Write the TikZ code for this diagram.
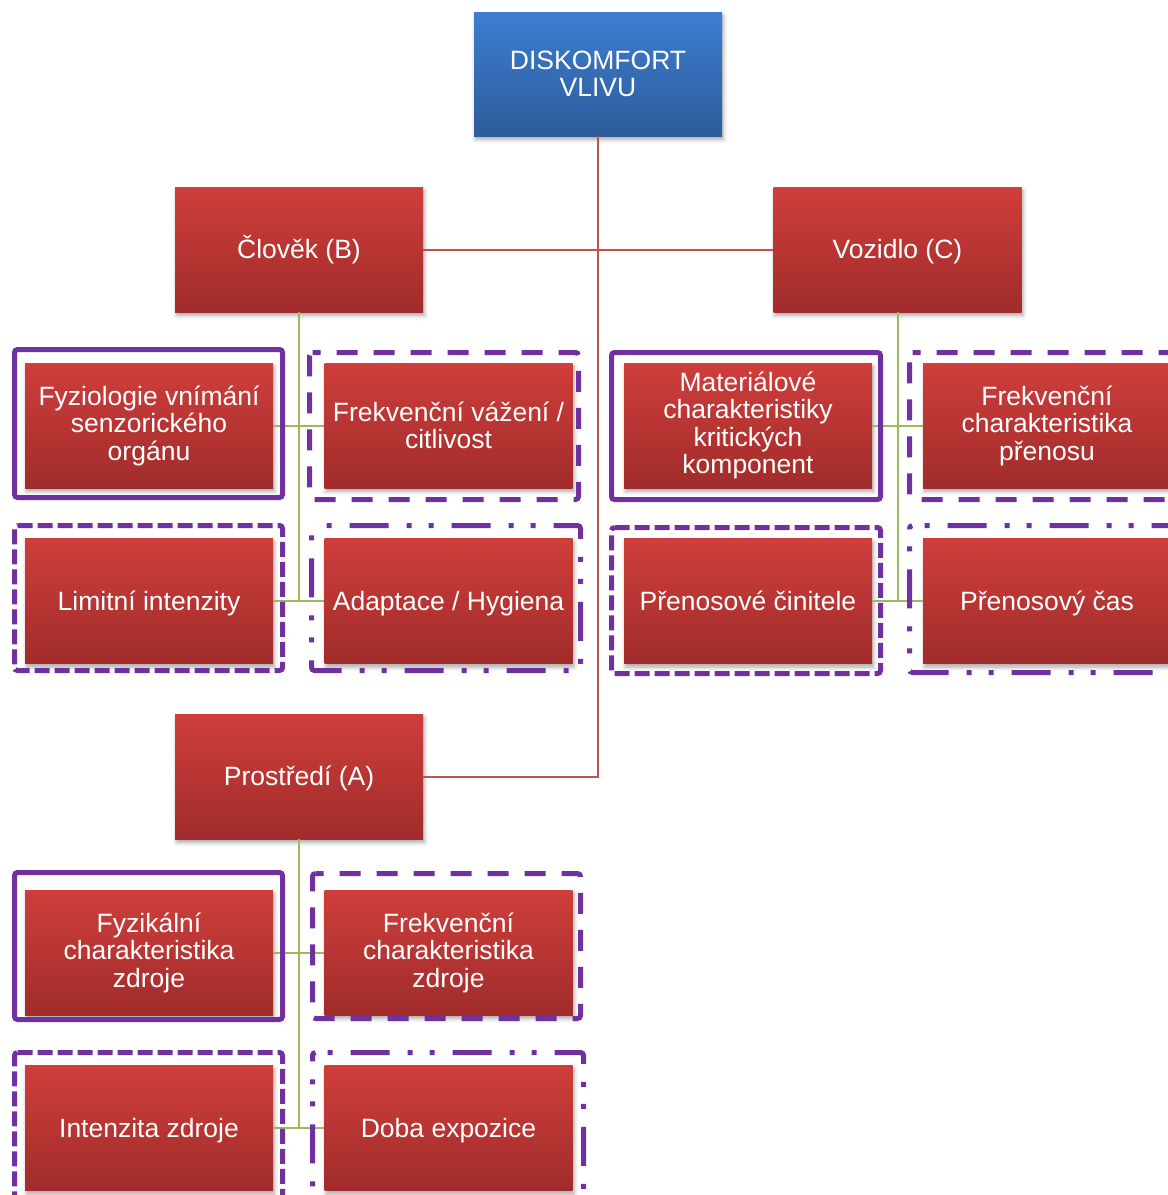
\documentclass[tikz,border=0pt]{standalone}
\usepackage{fontspec}
\setmainfont{Liberation Sans}
\usetikzlibrary{shadows.blur}

\definecolor{blueTop}{HTML}{3C7ED0}
\definecolor{blueBot}{HTML}{2D5C9B}
\definecolor{redTop}{HTML}{CF3E3B}
\definecolor{redBot}{HTML}{A02C2B}
\definecolor{redLink}{HTML}{C65250}
\definecolor{greenLink}{HTML}{9BBB59}
\definecolor{frameViolet}{HTML}{7030A0}

% invisible rules giving a one-line label the full ascent and descent of the font
\newcommand{\topascent}{\rule{0pt}{0.905em}}
\newcommand{\bottomdescent}{\rule[-0.212em]{0pt}{0pt}}

\tikzset{
  card/.style={rectangle, inner sep=0pt, minimum width=248pt, minimum height=125pt,
    text=white, align=center, font=\fontsize{26.5}{27.5}\selectfont,
    blur shadow={shadow xshift=1.5pt, shadow yshift=-3.5pt, shadow blur radius=4pt, shadow opacity=35}},
  oneline/.style={execute at begin node=\topascent, execute at end node=\bottomdescent},
  headcard/.style={card, minimum height=124pt, top color=blueTop, bottom color=blueBot},
  redcard/.style={card, top color=redTop, bottom color=redBot},
  redlink/.style={draw=redLink, line width=2pt},
  greenlink/.style={draw=greenLink, line width=2pt},
  framebase/.style={draw=frameViolet, line width=5pt, rounded corners=3pt},
  framesolid/.style={framebase},
  framedashed/.style={framebase, dash pattern=on 21pt off 16pt, dash phase=13pt},
  frameshortdash/.style={framebase, dash pattern=on 15pt off 5pt},
  framedashdotdot/.style={framebase,
    dash pattern=on 39pt off 18pt on 5pt off 17pt on 5pt off 18pt, dash phase=67pt},
}

\begin{document}
\begin{tikzpicture}[x=1pt, y=-1pt]
  \useasboundingbox (0,0) rectangle (1168,1195);
  \clip (0,0) rectangle (1168,1195);

  % top element
  \node[headcard] (top) at (598,74) {DISKOMFORT\\VLIVU};

  % main branches
  \node[redcard, oneline] (B) at (299,249.5) {Člověk (B)};
  \node[redcard, oneline] (C) at (897.5,249.5) {Vozidlo (C)};
  \node[redcard, oneline] (A) at (299,776.5) {Prostředí (A)};

  % red connectors of the main level
  \draw[redlink] (top.south) |- (A.east);
  \draw[redlink] (B.east) -- (C.west);

  % sub-items of B
  \node[redcard] (B1) at (149,425.5) {Fyziologie vnímání\\senzorického\\orgánu};
  \node[redcard] (B3) at (448.5,425.5) {Frekvenční vážení /\\citlivost};
  \node[redcard, oneline] (B2) at (149,601) {Limitní intenzity};
  \node[redcard, oneline] (B4) at (448.5,601) {Adaptace / Hygiena};

  % sub-items of C
  \node[redcard] (C1) at (748,425.5) {Materiálové\\charakteristiky\\kritických\\komponent};
  \node[redcard] (C3) at (1047,425.5) {Frekvenční\\charakteristika\\přenosu};
  \node[redcard, oneline] (C2) at (748,601) {Přenosové činitele};
  \node[redcard, oneline] (C4) at (1047,601) {Přenosový čas};

  % sub-items of A
  \node[redcard] (A1) at (149,952.5) {Fyzikální\\charakteristika\\zdroje};
  \node[redcard] (A3) at (448.5,952.5) {Frekvenční\\charakteristika\\zdroje};
  \node[redcard, oneline] (A2) at (149,1128) {Intenzita zdroje};
  \node[redcard, oneline] (A4) at (448.5,1128) {Doba expozice};

  % green connectors to the sub-items
  \draw[greenlink] (B.south) -- (B.south |- B2.east);
  \draw[greenlink] (B1.east) -- (B3.west);
  \draw[greenlink] (B2.east) -- (B4.west);
  \draw[greenlink] (C.south) -- (C.south |- C2.east);
  \draw[greenlink] (C1.east) -- (C3.west);
  \draw[greenlink] (C2.east) -- (C4.west);
  \draw[greenlink] (A.south) -- (A.south |- A2.east);
  \draw[greenlink] (A1.east) -- (A3.west);
  \draw[greenlink] (A2.east) -- (A4.west);

  % violet frames around the sub-items
  \draw[framesolid]      (14.5,349.5) -- (282.5,349.5) -- (282.5,497.5) -- (14.5,497.5) -- cycle;
  \draw[framedashed]     (309.5,352.5) -- (578.5,352.5) -- (578.5,499.5) -- (309.5,499.5) -- cycle;
  \draw[frameshortdash]  (14.5,525.5) -- (282.5,525.5) -- (282.5,670.5) -- (14.5,670.5) -- cycle;
  \draw[framedashdotdot] (311.5,525.5) -- (580.5,525.5) -- (580.5,670.5) -- (311.5,670.5) -- cycle;

  \draw[framesolid]      (611.5,352.5) -- (880.5,352.5) -- (880.5,499.5) -- (611.5,499.5) -- cycle;
  \draw[framedashed]     (909.5,352.5) -- (1182,352.5) -- (1182,499.5) -- (909.5,499.5) -- cycle;
  \draw[frameshortdash]  (611.5,527.5) -- (880.5,527.5) -- (880.5,673.5) -- (611.5,673.5) -- cycle;
  \draw[framedashdotdot] (909.5,525.5) -- (1182,525.5) -- (1182,672.5) -- (909.5,672.5) -- cycle;

  \draw[framesolid]      (14.5,872.5) -- (282.5,872.5) -- (282.5,1019.5) -- (14.5,1019.5) -- cycle;
  \draw[framedashed]     (312.5,873.5) -- (580.5,873.5) -- (580.5,1018.5) -- (312.5,1018.5) -- cycle;
  \draw[frameshortdash]  (14.5,1052.5) -- (282.5,1052.5) -- (282.5,1215) -- (14.5,1215) -- cycle;
  \draw[framedashdotdot] (312.5,1052.5) -- (583.5,1052.5) -- (583.5,1215) -- (312.5,1215) -- cycle;
\end{tikzpicture}
\end{document}
